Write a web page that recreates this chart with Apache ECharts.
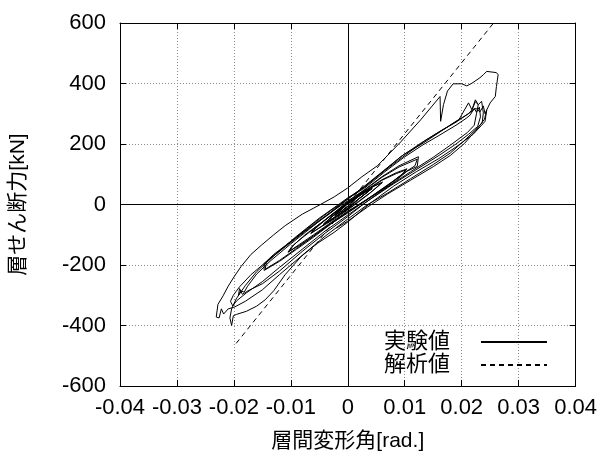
<!DOCTYPE html>
<html>
<head>
<meta charset="utf-8">
<script src="https://cdn.jsdelivr.net/npm/echarts@6/dist/echarts.min.js"></script>
<style>
  html, body { margin: 0; padding: 0; background: #fff; }
  #chart { width: 600px; height: 457px; }
</style>
</head>
<body>
<div id="chart"></div>
<script>
// ---- data (drift angle [rad], story shear [kN]) ----
const xTicks = [-0.04, -0.03, -0.02, -0.01, 0, 0.01, 0.02, 0.03, 0.04];
const yTicks = [-600, -400, -200, 0, 200, 400, 600];
const seriesNames = ['実験値', '解析値'];

const cycle1 = [[0,0],[0.001,16],[0.0022,32],[0.0015,22],[0.0005,4],[0,-6],[-0.001,-20],[-0.0022,-36],[-0.0015,-24],[-0.0005,-6],[0,4],[0.001,18],[0.0023,33],[0.0014,18],[0,-8],[-0.0012,-24],[-0.0023,-37],[-0.0014,-20],[0,2]];
const cycle2 = [[0.0015,22],[0.003,40],[0.0042,52],[0.0035,42],[0.002,20],[0.0008,2],[0,-12],[-0.0015,-32],[-0.003,-50],[-0.0042,-64],[-0.0035,-52],[-0.002,-28],[-0.0008,-8],[0,8],[0.0016,26],[0.003,42],[0.0043,54],[0.0034,40],[0.0018,16],[0,-14],[-0.0016,-34],[-0.003,-52],[-0.0043,-66],[-0.0034,-50],[-0.0018,-24],[0,6]];
const cycle3 = [[0.002,32],[0.004,55],[0.0061,74],[0.0055,64],[0.004,40],[0.002,12],[0,-16],[-0.002,-40],[-0.004,-64],[-0.0065,-96],[-0.006,-80],[-0.005,-66],[-0.003,-38],[-0.001,-10],[0,4],[0.002,34],[0.004,56],[0.006,72],[0.0053,60],[0.0038,36],[0.002,10],[0,-18],[-0.002,-44],[-0.0045,-72],[-0.0064,-94],[-0.0056,-78],[-0.0035,-44],[-0.0015,-14],[0,6]];
const cycle4 = [[0.003,45],[0.006,82],[0.0085,105],[0.0104,118],[0.0098,104],[0.008,78],[0.0055,45],[0.003,12],[0,-25],[-0.003,-60],[-0.006,-100],[-0.0085,-132],[-0.0105,-158],[-0.0098,-138],[-0.008,-110],[-0.005,-66],[-0.002,-22],[0,8]];
const cycle4b = [[0.003,42],[0.006,80],[0.0085,102],[0.0102,114],[0.0096,100],[0.0078,74],[0.0052,40],[0.0028,8],[0,-28],[-0.003,-64],[-0.006,-104],[-0.0085,-135],[-0.0103,-155],[-0.0095,-134],[-0.0075,-100],[-0.0045,-58],[-0.0018,-18],[0,10]];
const cycle5 = [[0.003,50],[0.006,92],[0.009,128],[0.0124,158],[0.0122,126],[0.0104,110],[0.008,72],[0.005,35],[0.002,0],[0,-25],[-0.003,-65],[-0.006,-108],[-0.009,-148],[-0.012,-188],[-0.0147,-218],[-0.0147,-195],[-0.013,-165],[-0.01,-122],[-0.006,-66],[-0.003,-26],[0,12],[0.003,48],[0.006,90],[0.009,124],[0.0122,150],[0.0118,128],[0.01,106],[0.007,62],[0.004,25],[0.0015,-5],[0,-22],[-0.003,-62],[-0.006,-104],[-0.009,-145],[-0.012,-185],[-0.0145,-214],[-0.0143,-192],[-0.0125,-160],[-0.0095,-115],[-0.006,-62],[-0.003,-20],[0,18]];
const cycle6B = [[0.003,62],[0.0063,112],[0.0093,158],[0.013,205],[0.016,240],[0.019,272],[0.021,298],[0.0225,318],[0.0232,306],[0.0238,326],[0.0241,300],[0.0244,313],[0.0241,275],[0.0235,262],[0.022,232],[0.019,190],[0.016,152],[0.012,108],[0.008,60],[0.004,5],[0,-58],[-0.0024,-92],[-0.0053,-128],[-0.0082,-172],[-0.011,-232],[-0.013,-285],[-0.0145,-315],[-0.016,-336],[-0.0178,-353],[-0.0195,-363],[-0.0201,-368],[-0.0204,-400],[-0.0207,-375],[-0.0204,-345],[-0.0196,-312],[-0.018,-268],[-0.016,-222],[-0.013,-170],[-0.009,-105],[-0.005,-45],[-0.002,-5],[0,22]];
const cycle6C = [[0.003,58],[0.0065,114],[0.0098,165],[0.013,200],[0.0162,240],[0.019,275],[0.0212,300],[0.0218,313],[0.0224,340],[0.0229,330],[0.0226,300],[0.0222,262],[0.021,238],[0.018,196],[0.015,156],[0.011,108],[0.007,58],[0.003,5],[0,-40],[-0.004,-95],[-0.008,-155],[-0.012,-220],[-0.015,-262],[-0.0175,-285],[-0.0185,-297],[-0.019,-278],[-0.0192,-300],[-0.0188,-285],[-0.0182,-290],[-0.0176,-270],[-0.016,-230],[-0.0135,-185],[-0.01,-130],[-0.006,-70],[-0.003,-25],[0,20]];
const cycle6D = [[0.003,55],[0.0065,108],[0.0098,155],[0.013,195],[0.016,228],[0.019,262],[0.0208,285],[0.0215,296],[0.0222,318],[0.0226,305],[0.0231,322],[0.0233,290],[0.0228,258],[0.0212,232],[0.019,200],[0.016,162],[0.012,115],[0.008,68],[0.004,18],[0,-35],[-0.004,-88],[-0.008,-148],[-0.012,-208],[-0.015,-255],[-0.0178,-292],[-0.0195,-318],[-0.0202,-335],[-0.0206,-320],[-0.0201,-300],[-0.019,-272],[-0.017,-232],[-0.0145,-192],[-0.011,-140],[-0.007,-82],[-0.003,-28],[0,18]];
const cycle6A = [[0.003,60],[0.0065,112],[0.01,162],[0.0135,210],[0.0165,245],[0.0195,280],[0.0212,336],[0.0218,313],[0.0224,346],[0.0229,330],[0.0235,341],[0.0238,303],[0.0236,270],[0.0225,248],[0.0205,212],[0.018,170],[0.015,132],[0.011,85],[0.007,38],[0.0035,0],[0,-48],[-0.004,-105],[-0.008,-168],[-0.012,-232],[-0.015,-282],[-0.018,-320],[-0.02,-340],[-0.021,-345],[-0.0218,-362],[-0.0222,-345],[-0.0226,-375],[-0.0231,-372],[-0.0228,-330],[-0.0219,-302],[-0.021,-270],[-0.0199,-237],[-0.0187,-204],[-0.017,-165],[-0.0152,-135],[-0.013,-100],[-0.011,-70],[-0.008,-32],[-0.005,-2],[-0.0024,25],[0,55],[0.0025,92],[0.0052,128],[0.0093,207],[0.0128,280],[0.0162,357]];
const cycleFinal = [[0.0163,275],[0.0168,330],[0.0175,375],[0.0185,399],[0.02,399],[0.0209,392],[0.0218,401],[0.0232,419],[0.0238,429],[0.0244,440],[0.0261,436],[0.0264,429],[0.0261,390],[0.0259,357],[0.025,336],[0.0244,313],[0.024,282],[0.0225,245],[0.0205,202],[0.018,162],[0.015,125],[0.011,80],[0.007,35],[0.0035,-8],[0,-55],[-0.002,-78]];

const analysisX = [-0.0196, 0.0256];
const analysisY = [-459, 600];

// ---- build ----
const experiment = [].concat(cycle1, cycle2, cycle2, cycle3, cycle4, cycle4b, cycle5, cycle6B, cycle6C, cycle6D, cycle6A, cycleFinal);
const analysis = analysisX.map((x, i) => [x, analysisY[i]]);

const font = "'Liberation Sans', 'Noto Sans CJK JP', sans-serif";
const fmtX = v => { const r = Math.round(v * 100) / 100; return r === 0 ? '0' : String(r); };

const chart = echarts.init(document.getElementById('chart'), null, { renderer: 'canvas' });

const baseX = {
  type: 'value', min: xTicks[0], max: xTicks[xTicks.length - 1], interval: 0.01,
  axisLine: { show: true, onZero: false, lineStyle: { color: '#000', width: 1 } },
  axisTick: { show: true, inside: true, length: 6, lineStyle: { color: '#000' } }
};
const baseY = {
  type: 'value', min: yTicks[0], max: yTicks[yTicks.length - 1], interval: 200,
  axisLine: { show: true, onZero: false, lineStyle: { color: '#000', width: 1 } },
  axisTick: { show: true, inside: true, length: 6, lineStyle: { color: '#000' } }
};

chart.setOption({
  animation: false,
  backgroundColor: '#fff',
  grid: { left: 118, right: 24, top: 23, bottom: 70, containLabel: false },
  xAxis: [
    Object.assign({}, baseX, {
      position: 'bottom',
      name: '層間変形角[rad.]', nameLocation: 'middle', nameGap: 45,
      nameTextStyle: { fontSize: 21, color: '#000', fontFamily: font },
      axisLabel: { show: true, margin: 11, fontSize: 22, color: '#000', fontFamily: font, formatter: fmtX },
      splitLine: { show: true, lineStyle: { color: '#8a8a8a', width: 1, type: [1, 2] } }
    }),
    Object.assign({}, baseX, { position: 'top', axisLabel: { show: false }, splitLine: { show: false } })
  ],
  yAxis: [
    Object.assign({}, baseY, {
      position: 'left',
      name: '層せん断力[kN]', nameLocation: 'middle', nameGap: 91, nameRotate: 90,
      nameTextStyle: { fontSize: 21, color: '#000', fontFamily: font },
      axisLabel: { show: true, margin: 14, fontSize: 22, color: '#000', fontFamily: font },
      splitLine: { show: true, lineStyle: { color: '#8a8a8a', width: 1, type: [1, 2] } }
    }),
    Object.assign({}, baseY, { position: 'right', axisLabel: { show: false }, splitLine: { show: false } })
  ],
  legend: {
    data: seriesNames,
    orient: 'vertical', align: 'right',
    right: 52, top: 331, padding: 0,
    itemWidth: 66, itemHeight: 22, itemGap: 1,
    itemStyle: { color: 'rgba(0,0,0,0)', borderColor: 'rgba(0,0,0,0)', borderWidth: 0, opacity: 0 },
    textStyle: { fontSize: 22, color: '#000', fontFamily: font, padding: [0, 26, 0, 0] },
    selectedMode: false
  },
  series: [
    {
      name: seriesNames[0], type: 'line', xAxisIndex: 0, yAxisIndex: 0,
      data: experiment, symbol: 'none', smooth: false, clip: true,
      lineStyle: { color: '#000', width: 1 }, itemStyle: { color: '#000' },
      z: 3
    },
    {
      name: seriesNames[1], type: 'line', xAxisIndex: 0, yAxisIndex: 0,
      data: analysis, symbol: 'none', clip: true,
      lineStyle: { color: '#000', width: 1, type: [5, 4] }, itemStyle: { color: '#000' },
      markLine: {
        silent: true, symbol: 'none', label: { show: false },
        lineStyle: { color: '#000', width: 1, type: 'solid' },
        data: [{ xAxis: 0 }, { yAxis: 0 }]
      },
      z: 2
    }
  ]
});
</script>
</body>
</html>
